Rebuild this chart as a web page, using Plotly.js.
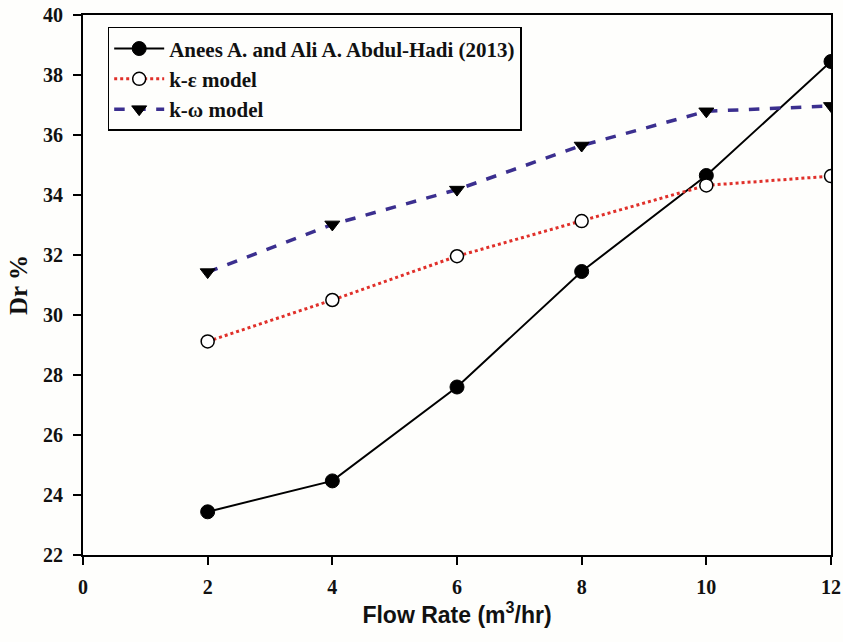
<!DOCTYPE html>
<html>
<head>
<meta charset="utf-8">
<script src="https://cdn.plot.ly/plotly-3.0.1.min.js"></script>
<style>html,body{margin:0;padding:0;background:#fefefc;}#chart{width:843px;height:642px;}</style>
</head>
<body>
<div id="chart"></div>
<script>
const flowRate = [2, 4, 6, 8, 10, 12];
const expData = [23.44, 24.47, 27.6, 31.45, 34.65, 38.45];
const keData = [29.12, 30.5, 31.96, 33.13, 34.32, 34.63];
const kwData = [31.43, 33.02, 34.18, 35.65, 36.79, 36.97];
const xTicks = [0, 2, 4, 6, 8, 10, 12];
const yTicks = [22, 24, 26, 28, 30, 32, 34, 36, 38, 40];
const seriesNames = ['Anees A. and Ali A. Abdul-Hadi (2013)', 'k-ε model', 'k-ω model'];

const serif = 'Liberation Serif, Times New Roman, serif';
const traces = [
  {x: flowRate, y: expData, name: seriesNames[0], mode: 'lines+markers',
   line: {color: '#000000', width: 2},
   marker: {symbol: 'circle', size: 14, color: '#000000', line: {color: '#000000', width: 1}}},
  {x: flowRate, y: keData, name: seriesNames[1], mode: 'lines+markers',
   line: {color: '#e0302a', width: 3, dash: 'dot'},
   marker: {symbol: 'circle', size: 13, color: '#ffffff', line: {color: '#000000', width: 1.5}}},
  {x: flowRate, y: kwData, name: seriesNames[2], mode: 'lines+markers',
   line: {color: '#3b2f8f', width: 3.5, dash: 'dash'},
   marker: {symbol: 'triangle-down', size: 13, color: '#000000', line: {color: '#000000', width: 1}}}
];

const layout = {
  width: 843, height: 642,
  paper_bgcolor: '#fefefc', plot_bgcolor: '#fefefc',
  margin: {l: 83, r: 12, t: 15, b: 87},
  showlegend: true,
  legend: {x: 0.033, y: 0.978, xanchor: 'left', yanchor: 'top',
    bgcolor: '#fefefc', bordercolor: '#000000', borderwidth: 1.5,
    itemwidth: 50,
    font: {family: serif, size: 21, color: '#111111', weight: 'bold'},
    tracegroupgap: 0},
  xaxis: {range: [0, 12], tickvals: xTicks, ticktext: xTicks.map(String),
    showgrid: false, zeroline: false, showline: true, linecolor: '#000000', linewidth: 2, mirror: true,
    ticks: 'outside', ticklen: 8, tickwidth: 2, tickcolor: '#000000', ticklabelstandoff: 5,
    tickfont: {family: serif, size: 20, color: '#111111', weight: 'bold'},
    title: {text: 'Flow Rate (m<sup>3</sup>/hr)', standoff: 10,
      font: {family: 'Liberation Sans, Arial, sans-serif', size: 23, color: '#111111', weight: 'bold'}}},
  yaxis: {range: [22, 40], tickvals: yTicks, ticktext: yTicks.map(String),
    showgrid: false, zeroline: false, showline: true, linecolor: '#000000', linewidth: 2, mirror: true,
    ticks: 'outside', ticklen: 8, tickwidth: 2, tickcolor: '#000000', ticklabelstandoff: 6,
    tickfont: {family: serif, size: 20, color: '#111111', weight: 'bold'},
    title: {text: 'Dr %', standoff: 8,
      font: {family: serif, size: 25, color: '#111111', weight: 'bold'}}}
};

Plotly.newPlot('chart', traces, layout, {displayModeBar: false, staticPlot: true});
</script>
</body>
</html>
